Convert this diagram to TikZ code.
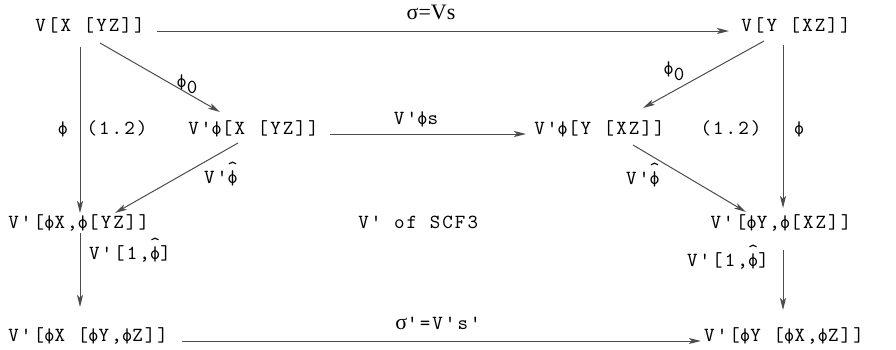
\documentclass[tikz,border=0pt]{standalone}
\usepackage{fontspec}
\newfontfamily\tw{lmmono10-regular.otf}[LetterSpace=10.5,Ligatures=TeXOff]
\newfontfamily\sr{Liberation Serif}
\usetikzlibrary{arrows.meta,calc}
\newcommand\ap{\char"27\relax}
\newcommand\ph{\ooalign{\char"6F\cr\hidewidth\raisebox{-0.05em}{\char"7C}\hidewidth\cr}}
\newcommand\sg{{\sr\fontsize{11pt}{12pt}\selectfont σ}}
\newcommand\phh{\ooalign{\ph\cr\hidewidth\raisebox{0.45em}{\char"5E}\hidewidth\cr}}
\newcommand\phz{\ph\raisebox{-0.75ex}{0}}
\begin{document}
\begin{tikzpicture}[x=0.5pt,y=-0.5pt,
  every node/.style={inner sep=0pt,font=\tw\fontsize{10pt}{12pt}\selectfont},
  obj/.style={anchor=base west},
  lab/.style={anchor=base},
  arr/.style={draw=black!70,line width=0.5pt,-{Stealth[length=6pt,width=3pt,inset=1.5pt]}}]
\useasboundingbox (0,0) rectangle (896,349);
% objects
\node[obj] (a) at (35,31) {V[X [YZ]]};
\node[obj] (b) at (741,31) {V[Y [XZ]]};
\node[obj] (c) at (188,134) {V\ap\ph[X [YZ]]};
\node[obj] (d) at (534,134) {V\ap\ph[Y [XZ]]};
\node[obj] (e) at (8,228) {V\ap[\ph X,\ph[YZ]]};
\node[lab] (f) at (781,228) {V\ap[\ph Y,\ph[XZ]]};
\node[obj] (g) at (8,341) {V\ap[\ph X [\ph Y,\ph Z]]};
\node[lab] (h) at (784,341) {V\ap[\ph Y [\ph X,\ph Z]]};
\node[obj] (t) at (358,228) {V\ap{} of SCF3};
\coordinate (lx) at (80,0);
\coordinate (rx) at (783,0);
% connectors
\draw[arr,shorten <=6pt,shorten >=6pt] (a.base east) -- (b.base west);
\draw[arr,shorten <=5.5pt,shorten >=4pt] (c.base east) -- (d.base west);
\draw[arr,shorten <=7pt,shorten >=1.5pt] (g.base east) -- (h.base west);
\draw[arr,shorten <=8pt,shorten >=7.5pt] (lx |- a.base) -- (lx |- e.base);
\draw[arr,shorten <=7pt,shorten >=10pt] (rx |- b.base) -- (rx |- f.base);
\draw[arr,shorten <=2.5pt,shorten >=17pt] (lx |- e.base) -- (lx |- g.base);
\draw[arr,shorten <=11pt,shorten >=15.5pt] (rx |- f.base) -- (rx |- h.base);
\draw[arr] ($(a.base west)+(65,12)$) -- ($(c.base west)+(32,-22)$);
\draw[arr] ($(b.base west)+(23,10)$) -- ($(d.base west)+(109,-26)$);
\draw[arr] ($(c.base west)+(50,9)$) -- ($(e.base west)+(107,-15)$);
\draw[arr] ($(d.base west)+(99,11)$) -- ($(f.base)+(-35,-16)$);
% labels
\node[lab,font=\sr\fontsize{11pt}{12pt}\selectfont] (l1) at (431,19) {σ=Vs};
\node[lab] (l2) at (416,124) {V\ap\ph s};
\node[lab] (l3) at (438,329) {\sg\ap=V\ap s\ap};
\node[lab] (l4) at (63,134) {\ph};
\node[lab] (l5) at (117,134) {(1.2)};
\node[lab] (l6) at (731,134) {(1.2)};
\node[lab] (l7) at (799,134) {\ph};
\node[anchor=base west] (l8) at (176,87) {\phz};
\node[anchor=base west] (l9) at (663,74) {\phz};
\node[lab] (l10) at (221,183) {V\ap\phh};
\node[lab] (l11) at (643,184) {V\ap\phh};
\node[lab] (l12) at (130,259) {V\ap[1,\phh]};
\node[lab] (l13) at (728,266) {V\ap[1,\phh]};
\end{tikzpicture}
\end{document}
